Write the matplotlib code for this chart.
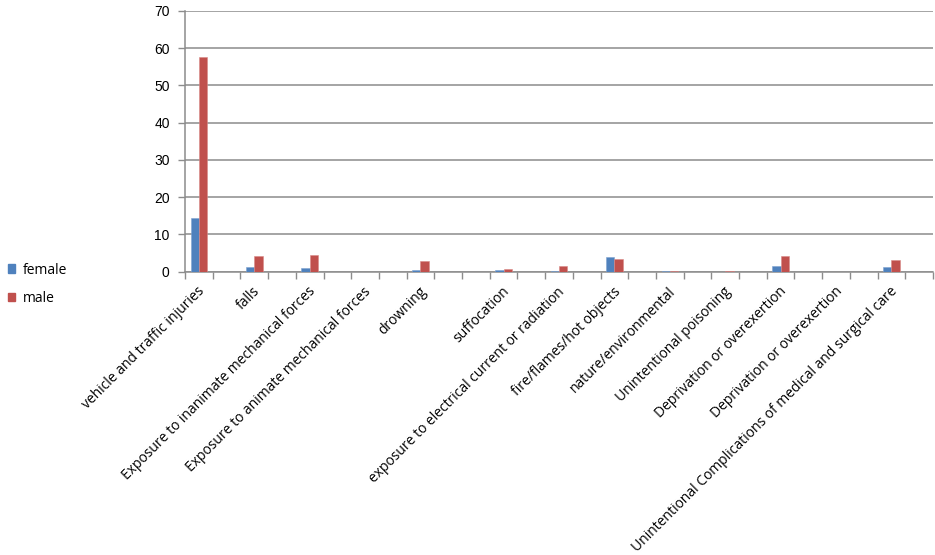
import numpy as np
import matplotlib
matplotlib.use("Agg")
import matplotlib.pyplot as plt
from matplotlib.patches import Patch

# categories as laid out in the sheet (blank rows kept as empty slots)
categories = ["vehicle and traffic injuries", "", "falls", "",
              "Exposure to inanimate mechanical forces", "",
              "Exposure to animate mechanical forces", "", "drowning", "", "",
              "suffocation", "", "exposure to electrical current or radiation", "",
              "fire/flames/hot objects", "", "nature/environmental", "",
              "Unintentional poisoning", "", "Deprivation or overexertion", "",
              "Deprivation or overexertion", "",
              "Unintentional Complications of medical and surgical care", ""]
female = [14.5, 0, 1.2, 0, 0.9, 0, 0, 0, 0.5, 0, 0, 0.4, 0, 0.2, 0,
          4.0, 0, 0.1, 0, 0.05, 0, 1.4, 0, 0, 0, 1.2, 0]
male = [57.7, 0, 4.1, 0, 4.6, 0, 0, 0, 2.9, 0, 0, 0.8, 0, 1.6, 0,
        3.4, 0, 0.2, 0, 0.2, 0, 4.2, 0, 0, 0, 3.2, 0]
series_names = ["female", "male"]

blue = "#4F81BD"
red = "#C0504D"
grid_c = "#8C8C8C"

fig = plt.figure(figsize=(9.35, 5.55), dpi=100)
ax = fig.add_axes([185 / 935, 1 - 271.7 / 555, (933 - 185) / 935, (271.7 - 11) / 555])

x = np.arange(len(categories))
w = 0.3
ax.bar(x - w / 2, female, w, color=blue, edgecolor="#7FA3D0", linewidth=0.4, zorder=3)
ax.bar(x + w / 2, male, w, color=red, edgecolor="#D98A88", linewidth=0.4, zorder=3)

ax.set_xlim(-0.5, len(categories) - 0.5)
ax.set_ylim(0, 70)
ax.set_yticks(range(0, 71, 10))
ax.yaxis.grid(True, color=grid_c, linewidth=1.1, zorder=0)
ax.tick_params(axis="y", length=5, width=1, color=grid_c, labelsize=10, pad=6)
for lab in ax.get_yticklabels():
    lab.set_fontfamily("Liberation Sans")

ax.set_xticks(np.arange(len(categories) + 1) - 0.5)
ax.set_xticklabels([])
ax.tick_params(axis="x", length=5, width=1, color=grid_c)
for i, name in enumerate(categories):
    if name:
        ax.annotate(name, xy=(i, 0), xycoords=("data", "axes fraction"),
                    xytext=(-1, -9), textcoords="offset points",
                    rotation=45, ha="right", va="top", rotation_mode="anchor",
                    fontsize=10, family="Open Sans", color="#000000")

for s in ["top", "right"]:
    ax.spines[s].set_visible(False)
ax.spines["left"].set_color(grid_c)
ax.spines["bottom"].set_color(grid_c)
ax.spines["left"].set_linewidth(1.1)
ax.spines["bottom"].set_linewidth(1.1)

handles = [Patch(color=blue), Patch(color=red)]
fig.legend(handles, series_names, loc="upper left", bbox_to_anchor=(-0.005, 1 - 250 / 555),
           frameon=False, handlelength=0.55, handleheight=0.55, handletextpad=0.5,
           labelspacing=0.95, prop={"family": "Open Sans", "size": 10})

fig.savefig("out.png", dpi=100)
